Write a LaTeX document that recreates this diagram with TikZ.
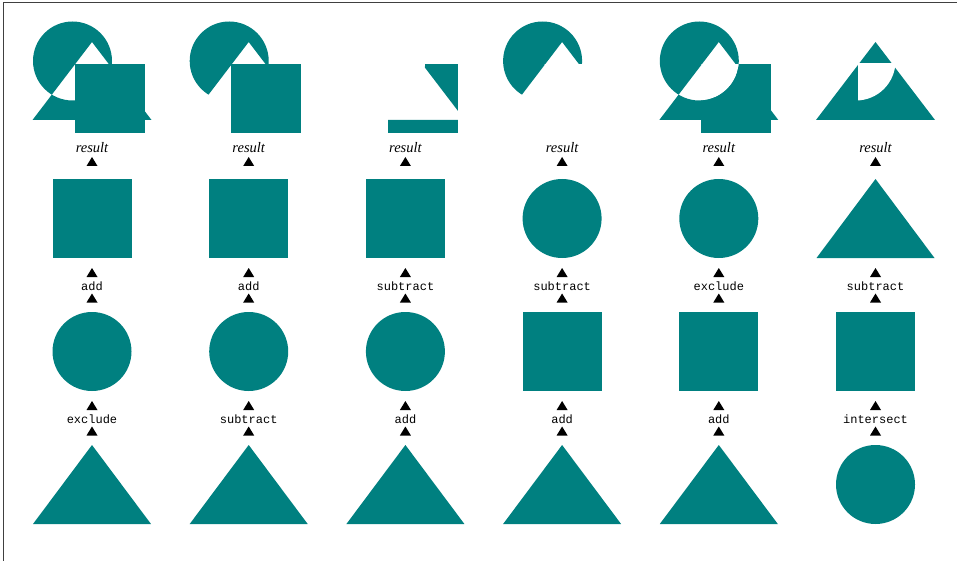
\documentclass[tikz,border=0pt]{standalone}
\usepackage{fontspec}
\setmainfont{Liberation Serif}
\newfontfamily\opfont{Liberation Mono}
% operand shapes: #1 centre x, #2 centre y, #3 drawing command
\newcommand\opsq[3]{#3 (#1-39.5,#2-39.5) rectangle (#1+39.5,#2+39.5);}
\newcommand\opci[3]{#3 (#1,#2) circle[radius=39.5pt];}
\newcommand\optri[3]{#3 (#1,#2-39.5) -- (#1+59,#2+39.5) -- (#1-59,#2+39.5) -- cycle;}
% result shape paths: #1 column centre x
\newcommand\Rci[1]{(#1-19.5,61) circle[radius=39.5pt]}
\newcommand\Rtri[1]{(#1,42) -- (#1+59.5,120) -- (#1-59.5,120) -- cycle}
\newcommand\Rsq[1]{(#1-17.5,64) rectangle (#1+52.5,133.5)}
\newcommand\Wholearea{(-20,-20) rectangle (980,580)}
% arrow tip: #1 x, #2 y of apex
\newcommand\tipat[2]{\fill[tipfill] (#1,#2) -- (#1+5.5,#2+9) -- (#1-5.5,#2+9) -- cycle;}
% labels and tips of one column: #1 x, #2 name, #3 op low, #4 op high
\newcommand\oplabels[4]{%
  \node[oplabel] (#2low) at (#1,423.5) {#3};
  \node[oplabel] (#2high) at (#1,290.5) {#4};
  \node[reslabel] (#2res) at (#1,153) {result};
  \tipat{#1}{401}\tipat{#1}{426.5}
  \tipat{#1}{268}\tipat{#1}{293.5}
  \tipat{#1}{157}}
\begin{document}
\begin{tikzpicture}[x=1pt,y=-1pt,
  tipfill/.style={fill=black},
  oplabel/.style={font=\opfont\fontsize{12}{12}\selectfont, anchor=base, inner sep=0pt},
  reslabel/.style={font=\itshape\fontsize{14.5}{14.5}\selectfont, anchor=base, inner sep=0pt}]
\useasboundingbox (0,0) rectangle (957,561);
\fill[white] (0,0) rectangle (957,561);
\draw[black!75, line width=1pt] (3.5,561) -- (3.5,2.5) -- (957,2.5);

% ---- column 1: triangle exclude circle, add square
\optri{92}{484.5}{\fill[teal]}
\opci{92}{351.5}{\fill[teal]}
\opsq{92}{218.5}{\fill[teal]}
\oplabels{92}{a}{exclude}{add}
\fill[teal, even odd rule] \Rtri{92} \Rci{92};
\fill[teal] \Rsq{92};

% ---- column 2: triangle subtract circle, add square
\optri{248.7}{484.5}{\fill[teal]}
\opci{248.7}{351.5}{\fill[teal]}
\opsq{248.7}{218.5}{\fill[teal]}
\oplabels{248.7}{b}{subtract}{add}
\begin{scope}[even odd rule]
  \clip \Wholearea \Rtri{248.7};
  \fill[teal] \Rci{248.7};
\end{scope}
\fill[teal] \Rsq{248.7};

% ---- column 3: triangle add circle, subtract square
\optri{405.4}{484.5}{\fill[teal]}
\opci{405.4}{351.5}{\fill[teal]}
\opsq{405.4}{218.5}{\fill[teal]}
\oplabels{405.4}{c}{add}{subtract}
\begin{scope}[even odd rule]
  \clip \Wholearea \Rtri{405.4};
  \clip \Wholearea \Rci{405.4};
  \fill[teal] \Rsq{405.4};
\end{scope}

% ---- column 4: triangle add square, subtract circle
\optri{562.1}{484.5}{\fill[teal]}
\opsq{562.1}{351.5}{\fill[teal]}
\opci{562.1}{218.5}{\fill[teal]}
\oplabels{562.1}{d}{add}{subtract}
\begin{scope}[even odd rule]
  \clip \Wholearea \Rtri{562.1};
  \clip \Wholearea \Rsq{562.1};
  \fill[teal] \Rci{562.1};
\end{scope}

% ---- column 5: triangle add square, exclude circle
\optri{718.8}{484.5}{\fill[teal]}
\opsq{718.8}{351.5}{\fill[teal]}
\opci{718.8}{218.5}{\fill[teal]}
\oplabels{718.8}{e}{add}{exclude}
\begin{scope}[even odd rule]
  \clip \Wholearea \Rci{718.8};
  \fill[teal] \Rtri{718.8};
  \fill[teal] \Rsq{718.8};
\end{scope}
\begin{scope}[even odd rule]
  \clip \Wholearea \Rtri{718.8};
  \clip \Wholearea \Rsq{718.8};
  \fill[teal] \Rci{718.8};
\end{scope}

% ---- column 6: circle intersect square, subtract triangle
\opci{875.5}{484.5}{\fill[teal]}
\opsq{875.5}{351.5}{\fill[teal]}
\optri{875.5}{218.5}{\fill[teal]}
\oplabels{875.5}{f}{intersect}{subtract}
\fill[teal] \Rtri{875.5};
\begin{scope}
  \clip \Rsq{875.5};
  \fill[white] \Rci{875.5};
\end{scope}
\end{tikzpicture}
\end{document}
